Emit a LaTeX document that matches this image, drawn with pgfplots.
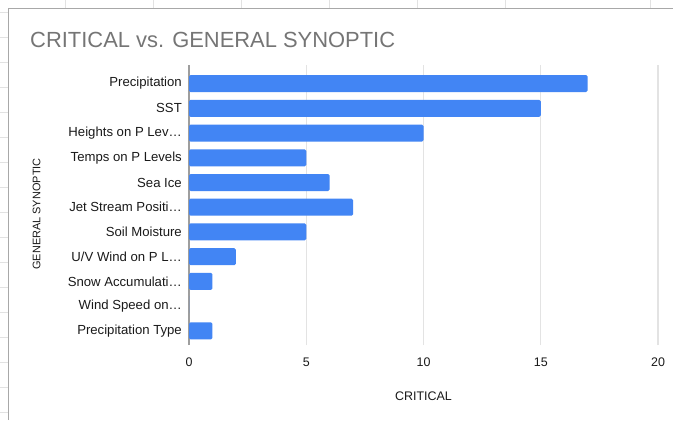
\documentclass[border=0pt]{standalone}
\usepackage{fontspec}
\setmainfont{Liberation Sans}
\usepackage{pgfplots}
\pgfplotsset{compat=1.18}
\definecolor{gblue}{HTML}{4285F4}
\definecolor{gridc}{HTML}{E3E3E3}
\definecolor{sheetc}{HTML}{E2E2E2}
\definecolor{borderc}{HTML}{A8A8A8}
\definecolor{axisc}{HTML}{9E9E9E}
\definecolor{titlec}{HTML}{757575}
\definecolor{txt}{HTML}{1A1A1A}
\begin{document}
\begin{tikzpicture}
\begin{scope}[x=1bp,y=1bp]
\useasboundingbox (0,0) rectangle (673,-420);
\fill[white] (0,0) rectangle (673,-420);
\foreach \yy in {12.5,37.5,...,412.5} \draw[sheetc, line width=0.8bp] (0,-\yy) -- (8,-\yy);
\foreach \xx in {65.5,153,241,329,417,505,650} \draw[sheetc, line width=0.8bp] (\xx,0) -- (\xx,-8);
\draw[borderc, line width=1.2bp] (8.3,-420) -- (8.3,-8.7) -- (673,-8.7);
\node[anchor=base west, text=titlec, font=\fontsize{22}{26}\selectfont, inner sep=0pt] at (30,-47.5) {CRITICAL vs. GENERAL SYNOPTIC};
\node[anchor=base, text=txt, font=\fontsize{12.5}{14}\selectfont, inner sep=0pt] at (423.5,-400) {CRITICAL};
\node[anchor=center, rotate=90, text=txt, font=\fontsize{11}{13}\selectfont, inner sep=0pt] at (36.5,-214) {GENERAL SYNOPTIC};
\end{scope}
\begin{axis}[
  at={(189bp,-345bp)}, anchor=south west,
  scale only axis, width=469bp, height=280bp,
  xbar, bar width=17bp,
  xmin=0, xmax=20, ymin=-0.57, ymax=10.75,
  axis line style={draw=none},
  xtick={5,10,15,20},
  extra x ticks={0},
  extra x tick style={xmajorgrids=true, major grid style={draw=axisc, line width=1.5bp}},
  xmajorgrids,
  major grid style={draw=gridc, line width=1.2bp},
  major tick length=0pt,
  ytick={0,...,10},
  yticklabels={Precipitation Type, Wind Speed on…, Snow Accumulati…, U/V Wind on P L…, Soil Moisture, Jet Stream Positi…, Sea Ice, Temps on P Levels, Heights on P Lev…, SST, Precipitation},
  yticklabel style={anchor=east, inner sep=0pt, xshift=-7bp, font=\fontsize{13.2}{15}\selectfont, text=txt},
  xticklabel style={anchor=north, inner sep=0pt, yshift=-12.5bp, font=\fontsize{12.5}{14}\selectfont, text=txt},
  /pgf/number format/assume math mode=true,
]
\addplot[fill=gblue, draw=none, rounded corners=1.5bp] coordinates {
(1,0) (0,1) (1,2) (2,3) (5,4) (7,5) (6,6) (5,7) (10,8) (15,9) (17,10)
};
\end{axis}
\end{tikzpicture}
\end{document}
